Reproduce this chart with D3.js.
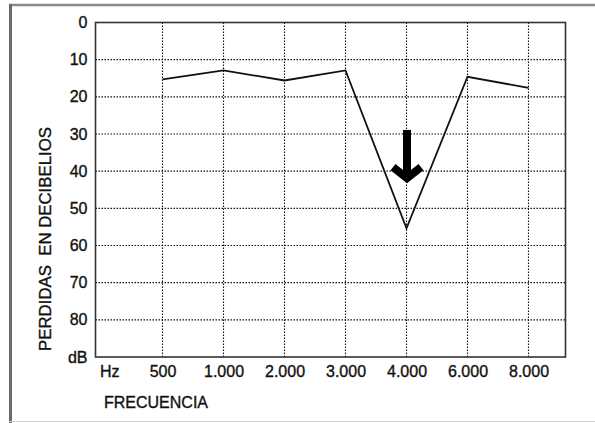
<!DOCTYPE html>
<html>
<head>
<meta charset="utf-8">
<script src="https://cdn.jsdelivr.net/npm/d3@7"></script>
<style>
  html, body { margin: 0; padding: 0; background: #fff; }
  svg text { font-family: "Liberation Sans", Arial, Helvetica, sans-serif; fill: #111; stroke: #111; stroke-width: 0.35px; }
</style>
</head>
<body>
<svg id="chart" width="595" height="423"></svg>
<script>
// ---- data ----
const frequencies = ["500", "1.000", "2.000", "3.000", "4.000", "6.000", "8.000"];
const lossDb = [15.3, 12.9, 15.6, 12.9, 55.4, 14.6, 17.6];
const yTicks = [0, 10, 20, 30, 40, 50, 60, 70, 80];
const yEndLabel = "dB";
const xStartLabel = "Hz";
const xTitle = "FRECUENCIA";
const yTitle = "PERDIDAS  EN DECIBELIOS";
const arrowAt = "4.000";
const arrowFrom = 28.9;
const arrowTo = 43.2;

// ---- layout ----
const svg = d3.select("#chart");
const plot = { left: 95.5, top: 22.5, right: 565.5, bottom: 357 };

const x = d3.scalePoint().domain(frequencies).range([162.5, 528.5]);
const y = d3.scaleLinear().domain([0, 90]).range([plot.top, plot.bottom]);

// outer frame
svg.append("line").attr("x1", 9).attr("x2", 595).attr("y1", 5).attr("y2", 5)
  .attr("stroke", "#8a8a8a").attr("stroke-width", 2.5);
svg.append("line").attr("x1", 10.5).attr("x2", 10.5).attr("y1", 4).attr("y2", 423)
  .attr("stroke", "#6a6a6a").attr("stroke-width", 3);
svg.append("line").attr("x1", 9).attr("x2", 595).attr("y1", 421.5).attr("y2", 421.5)
  .attr("stroke", "#d0d0d0").attr("stroke-width", 1);

// grid lines
const grid = svg.append("g").attr("stroke", "#111").attr("stroke-width", 1.1)
  .attr("stroke-dasharray", "1.5,1.5");
grid.selectAll("line.h").data(yTicks.filter(d => d > 0)).join("line")
  .attr("class", "h")
  .attr("x1", plot.left).attr("x2", plot.right)
  .attr("y1", d => y(d)).attr("y2", d => y(d));
grid.selectAll("line.v").data(frequencies).join("line")
  .attr("class", "v")
  .attr("x1", d => x(d)).attr("x2", d => x(d))
  .attr("y1", plot.top).attr("y2", plot.bottom);

// plot frame
svg.append("rect")
  .attr("x", plot.left).attr("y", plot.top)
  .attr("width", plot.right - plot.left).attr("height", plot.bottom - plot.top)
  .attr("fill", "none").attr("stroke", "#333").attr("stroke-width", 1.6);

// y axis labels
const yAxis = d3.axisLeft(y).tickValues(yTicks.concat([90]))
  .tickFormat(d => d === 90 ? yEndLabel : d).tickSize(0).tickPadding(8);
const gy = svg.append("g").attr("transform", `translate(${plot.left},0)`).call(yAxis);
gy.select(".domain").remove();
gy.selectAll("text").attr("font-size", 16).attr("fill", "#111")
  .attr("font-family", "Liberation Sans, Arial, sans-serif");

// x axis labels
const xAxis = d3.axisBottom(x).tickSize(0).tickPadding(0);
const gx = svg.append("g").attr("transform", `translate(0,${plot.bottom})`).call(xAxis);
gx.select(".domain").remove();
gx.selectAll("text").attr("font-size", 16).attr("fill", "#111")
  .attr("font-family", "Liberation Sans, Arial, sans-serif")
  .attr("dy", null).attr("y", 20);
svg.append("text").attr("x", 100).attr("y", 377).attr("font-size", 16).text(xStartLabel);

// titles
svg.append("text").attr("x", 104).attr("y", 407.5).attr("font-size", 16).text(xTitle);
svg.append("text")
  .attr("transform", `translate(51,${(125 + 353) / 2}) rotate(-90)`)
  .attr("text-anchor", "middle").attr("font-size", 16.8)
  .style("white-space", "pre").attr("xml:space", "preserve").text(yTitle);

// data line
svg.append("path")
  .datum(frequencies.map((f, i) => [f, lossDb[i]]))
  .attr("fill", "none").attr("stroke", "#111").attr("stroke-width", 1.8)
  .attr("stroke-linejoin", "miter")
  .attr("d", d3.line().x(d => x(d[0])).y(d => y(d[1])));

// arrow
const ax = x(arrowAt) + 0.5;
const yTop = y(arrowFrom), yTip = y(arrowTo);
const arrow = svg.append("g").attr("fill", "none").attr("stroke", "#000").attr("stroke-width", 8);
arrow.append("line").attr("x1", ax).attr("x2", ax).attr("y1", yTop).attr("y2", yTip - 8);
arrow.append("path")
  .attr("stroke-linejoin", "miter").attr("stroke-miterlimit", 10)
  .attr("d", `M${ax - 14},${yTip - 16} L${ax},${yTip - 5} L${ax + 14},${yTip - 16}`);
</script>
</body>
</html>
